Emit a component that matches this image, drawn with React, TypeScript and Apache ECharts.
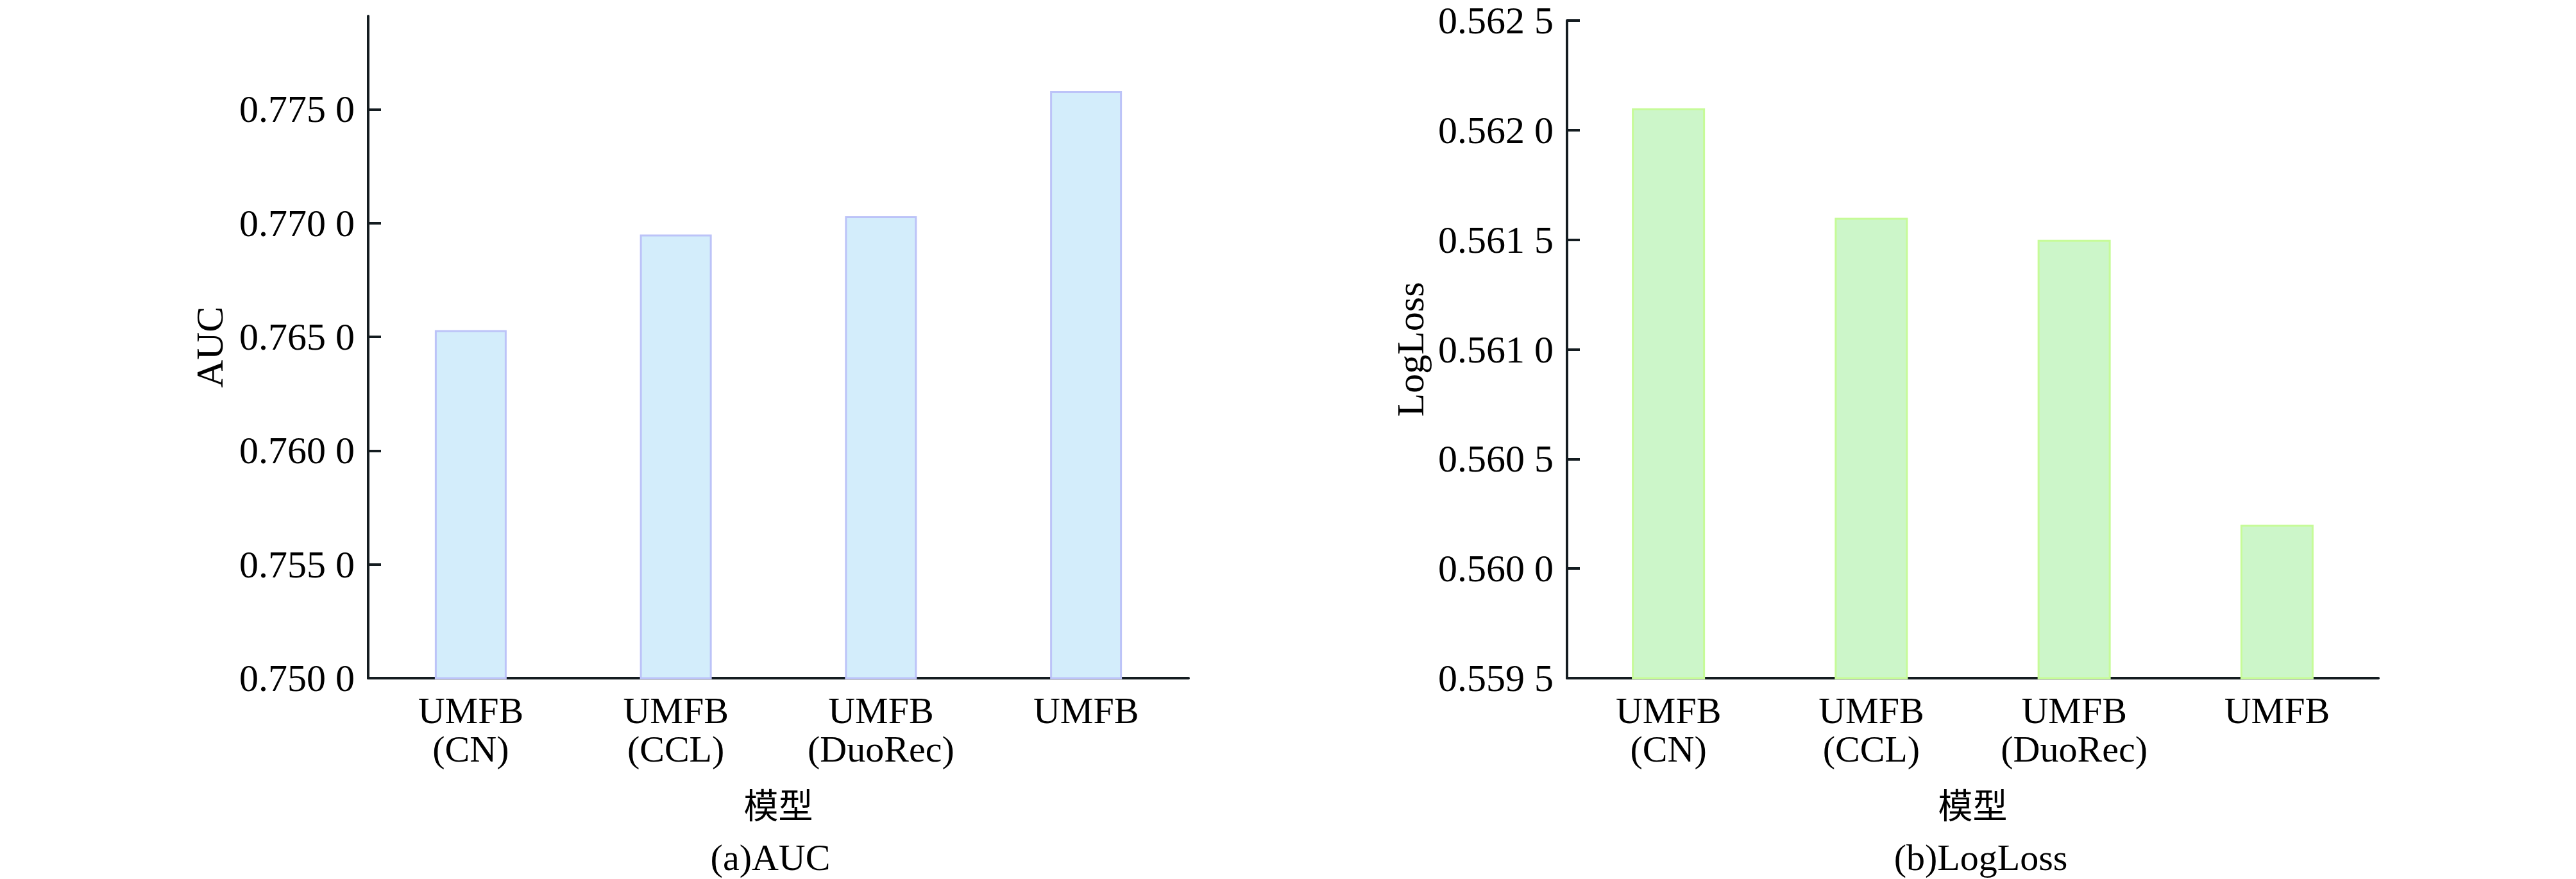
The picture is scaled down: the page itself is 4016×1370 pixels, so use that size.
import React, { useEffect, useRef } from "react";
import * as echarts from "echarts";

const categories = ["UMFB\n(CN)", "UMFB\n(CCL)", "UMFB\n(DuoRec)", "UMFB"];
const aucValues = [0.7653, 0.7695, 0.7703, 0.7758];
const loglossValues = [0.5621, 0.5616, 0.5615, 0.5602];
const aucTicks = [0.75, 0.755, 0.76, 0.765, 0.77, 0.775];
const loglossTicks = [0.5595, 0.56, 0.5605, 0.561, 0.5615, 0.562, 0.5625];

const SERIF = "'Liberation Serif', 'Times New Roman', serif";
const CJK = "'Noto Sans CJK SC', sans-serif";
const AXIS = "#141c20";

const fmt = (v: number) => {
  const s = v.toFixed(4);
  return s.slice(0, 5) + " " + s.slice(5);
};

export default function App() {
  const ref = useRef<HTMLDivElement>(null);
  useEffect(() => {
    document.body.style.margin = "0";
    const chart = echarts.init(ref.current!, null, { renderer: "svg" });
    const yAxisCommon = (ticks: number[], name: string, gap: number, min: number, max: number) => ({
      type: "value",
      min,
      max,
      name,
      nameLocation: "middle",
      nameGap: gap,
      nameTextStyle: { fontFamily: SERIF, fontSize: 60, color: "#000" },
      splitLine: { show: false },
      axisLine: { show: true, lineStyle: { color: AXIS, width: 4 } },
      axisTick: {
        show: true,
        inside: true,
        length: 20,
        customValues: ticks,
        lineStyle: { color: AXIS, width: 4 },
      },
      axisLabel: {
        customValues: ticks,
        formatter: (v: number) => fmt(v),
        fontFamily: SERIF,
        fontSize: 60,
        lineHeight: 44,
        color: "#000",
        margin: 21,
      },
    });
    const xAxisCommon = (gridIndex: number) => ({
      type: "category",
      gridIndex,
      data: categories,
      name: "模型",
      nameLocation: "middle",
      nameGap: 168,
      nameTextStyle: { fontFamily: CJK, fontSize: 54, color: "#000" },
      axisLine: { show: true, lineStyle: { color: AXIS, width: 4 } },
      axisTick: { show: false },
      axisLabel: {
        fontFamily: SERIF,
        fontSize: 58,
        lineHeight: 60,
        color: "#000",
        margin: 20,
        interval: 0,
      },
    });
    chart.setOption({
      animation: false,
      backgroundColor: "#fff",
      title: [
        {
          text: "(a)AUC",
          left: 1196,
          top: 1302,
          textAlign: "center",
          textStyle: { fontFamily: SERIF, fontSize: 58, fontWeight: "normal", color: "#000" },
        },
        {
          text: "(b)LogLoss",
          left: 3083,
          top: 1302,
          textAlign: "center",
          textStyle: { fontFamily: SERIF, fontSize: 58, fontWeight: "normal", color: "#000" },
        },
      ],
      grid: [
        { left: 574, top: 25, right: 2163, bottom: 313 },
        { left: 2443, top: 32, right: 308, bottom: 313 },
      ],
      xAxis: [xAxisCommon(0), xAxisCommon(1)],
      yAxis: [
        { ...yAxisCommon(aucTicks, "AUC", 217, 0.75, 0.7791), gridIndex: 0 },
        { ...yAxisCommon(loglossTicks, "LogLoss", 214, 0.5595, 0.5625), gridIndex: 1 },
      ],
      series: [
        {
          type: "bar",
          xAxisIndex: 0,
          yAxisIndex: 0,
          data: aucValues,
          barWidth: 112,
          itemStyle: { color: "#d3edfb", borderColor: "#bcc3f8", borderWidth: 3 },
        },
        {
          type: "bar",
          xAxisIndex: 1,
          yAxisIndex: 1,
          data: loglossValues,
          barWidth: 114,
          itemStyle: { color: "#ccf6c9", borderColor: "#c6fb98", borderWidth: 3 },
        },
      ],
    });
    return () => chart.dispose();
  }, []);
  return <div ref={ref} style={{ width: 4016, height: 1370 }} />;
}
